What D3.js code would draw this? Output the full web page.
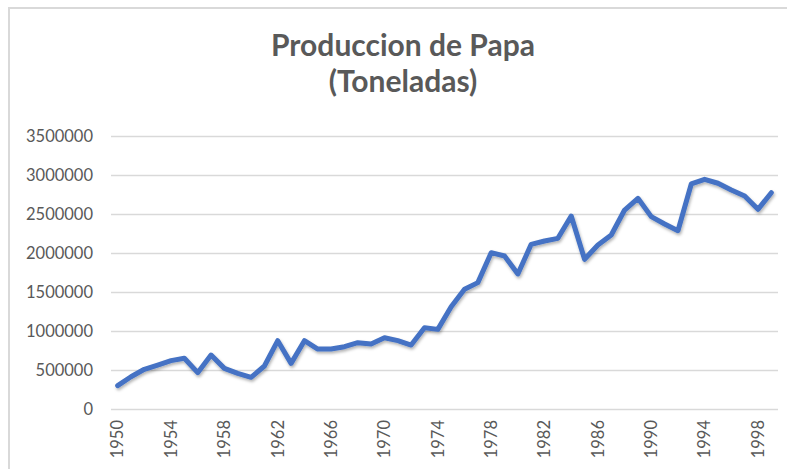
<!DOCTYPE html>
<html>
<head>
<meta charset="utf-8">
<script src="https://cdn.jsdelivr.net/npm/d3@7"></script>
<style>
  body { margin: 0; background: #fff; }
  svg text { font-family: Lato, "Open Sans", sans-serif; fill: #595959; }
</style>
</head>
<body>
<div id="chart"></div>
<script>
// Produccion de Papa (Toneladas), 1950-1999
const years = d3.range(1950, 2000);
const production = [
  300000, 414000, 509000, 564000, 620000, 650000, 466000, 692000, 521000, 457000,
  406000, 551000, 876000, 585000, 876000, 769000, 769000, 799000, 850000, 833000,
  914000, 876000, 820000, 1042000, 1021000, 1312000, 1534000, 1620000, 2004000, 1962000,
  1731000, 2111000, 2154000, 2188000, 2474000, 1919000, 2103000, 2231000, 2551000, 2701000,
  2466000, 2372000, 2286000, 2885000, 2945000, 2894000, 2808000, 2731000, 2560000, 2773000
];
const yTicks = [0, 500000, 1000000, 1500000, 2000000, 2500000, 3000000, 3500000];
const xTickYears = [1950, 1954, 1958, 1962, 1966, 1970, 1974, 1978, 1982, 1986, 1990, 1994, 1998];
const titleLines = ["Produccion de Papa", "(Toneladas)"];

const data = years.map((y, i) => ({ year: y, value: production[i] }));

const W = 787, H = 469;
const margin = { top: 136, right: 9, bottom: 60, left: 111 };

const svg = d3.select("#chart")
  .append("svg")
  .attr("width", W)
  .attr("height", H);

// chart frame
svg.append("rect")
  .attr("x", 9)
  .attr("y", 8)
  .attr("width", W)
  .attr("height", H)
  .attr("fill", "none")
  .attr("stroke", "#d9d9d9")
  .attr("stroke-width", 2);

const x = d3.scaleBand()
  .domain(years)
  .range([margin.left, W - margin.right]);

const y = d3.scaleLinear()
  .domain([0, 3500000])
  .range([H - margin.bottom, margin.top]);

// gridlines
svg.append("g")
  .selectAll("line")
  .data(yTicks)
  .join("line")
  .attr("x1", margin.left)
  .attr("x2", W - margin.right)
  .attr("y1", d => Math.round(y(d)) + 0.5)
  .attr("y2", d => Math.round(y(d)) + 0.5)
  .attr("stroke", "#d9d9d9")
  .attr("stroke-width", 1.5);

// y axis labels
const yAxis = svg.append("g")
  .attr("transform", `translate(${margin.left},0)`)
  .call(d3.axisLeft(y).tickValues(yTicks).tickSize(0).tickPadding(18).tickFormat(d3.format("d")));
yAxis.select(".domain").remove();
yAxis.selectAll("text")
  .attr("font-size", "16.5px")
  .attr("fill", "#595959");

// x axis labels
const xAxis = svg.append("g")
  .attr("transform", `translate(0,${y(0)})`)
  .call(d3.axisBottom(x).tickValues(xTickYears).tickSize(0));
xAxis.select(".domain").remove();
xAxis.selectAll("text")
  .attr("font-size", "16.5px")
  .attr("fill", "#595959")
  .attr("text-anchor", "end")
  .attr("transform", "rotate(-90)")
  .attr("x", -11)
  .attr("y", 0)
  .attr("dy", "0.35em");

// soft shadow under the line
const defs = svg.append("defs");
const filter = defs.append("filter")
  .attr("id", "shadow")
  .attr("x", "-5%").attr("y", "-5%")
  .attr("width", "110%").attr("height", "120%");
filter.append("feDropShadow")
  .attr("dx", 1)
  .attr("dy", 2)
  .attr("stdDeviation", 1.5)
  .attr("flood-color", "#000")
  .attr("flood-opacity", 0.3);

const line = d3.line()
  .x(d => x(d.year) + x.bandwidth() / 2)
  .y(d => y(d.value));

svg.append("path")
  .datum(data)
  .attr("fill", "none")
  .attr("stroke", "#4472c4")
  .attr("stroke-width", 5)
  .attr("stroke-linejoin", "round")
  .attr("stroke-linecap", "round")
  .attr("filter", "url(#shadow)")
  .attr("d", line);

// title
svg.append("g")
  .selectAll("text")
  .data(titleLines)
  .join("text")
  .attr("x", 403)
  .attr("y", (d, i) => 56 + i * 36)
  .attr("text-anchor", "middle")
  .attr("font-size", "30px")
  .attr("font-weight", "bold")
  .attr("fill", "#595959")
  .text(d => d);
</script>
</body>
</html>
